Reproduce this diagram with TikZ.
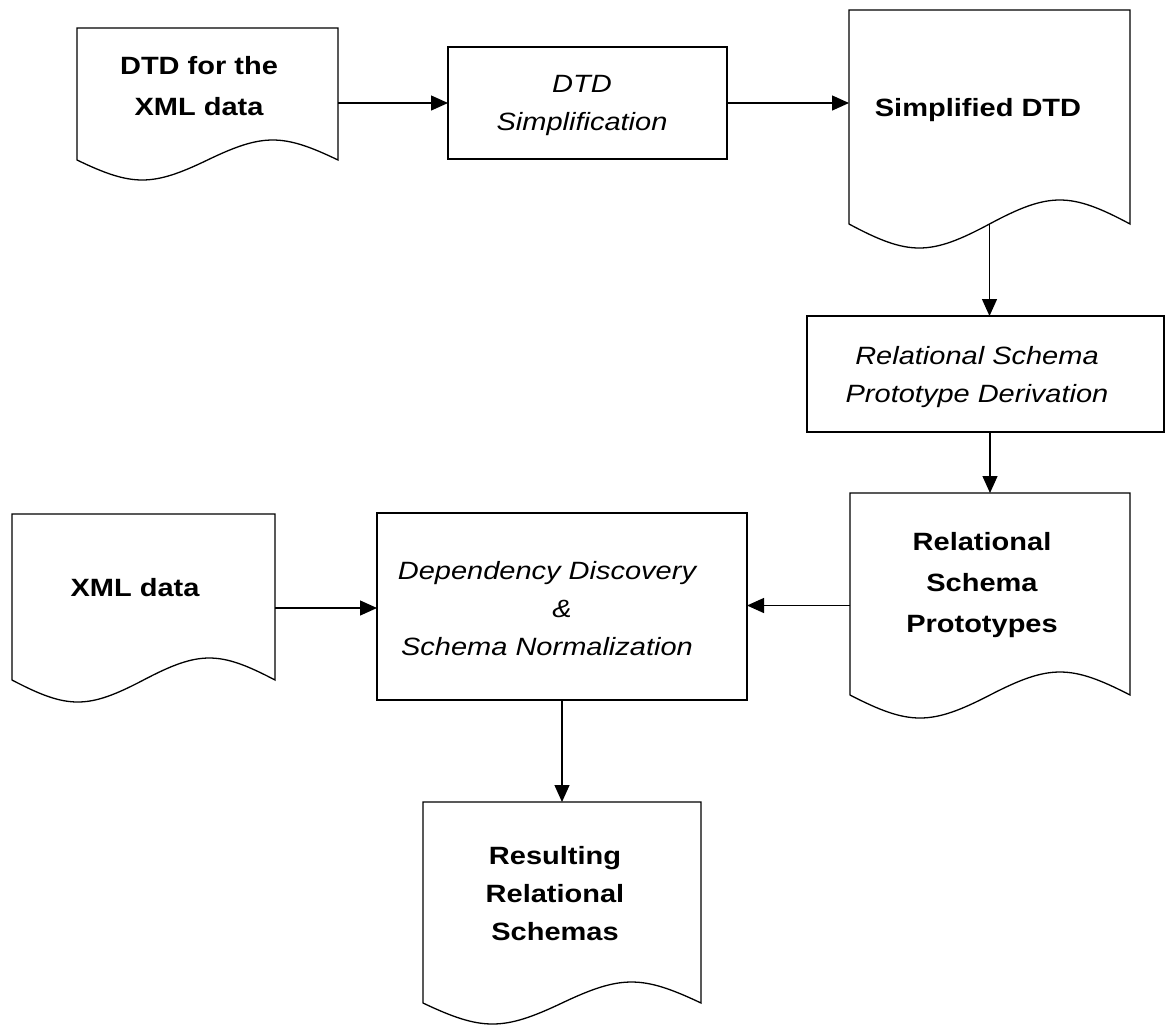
\documentclass[tikz,border=0pt]{standalone}
\usepackage{fontspec}
\setmainfont{Liberation Sans}[FakeStretch=1.16]
\usetikzlibrary{arrows.meta,calc}

% document outline: top edge, right side, sine-like wavy bottom (amplitude #2), left side
\newcommand\docoutline[2]{%
  \draw[outline] let \p1=(#1.north west), \p2=(#1.south east), \p3=(#1.south),
     \n1={#2*1.333}, \n2={0.212*(\x2-\x1)}, \n3={0.288*(\x2-\x1)} in
   (\x1,\y1) -- (\x2,\y1) -- (\x2,\y2+#2pt)
   .. controls (\x2-\n2,\y2+#2pt+\n1 pt) and (\x2-\n3,\y2+#2pt+\n1 pt) .. (\x3,\y2+#2pt)
   .. controls (\x3-\n2,\y2+#2pt-\n1 pt) and (\x3-\n3,\y2+#2pt-\n1 pt) .. (\x1,\y2+#2pt)
   -- cycle;}

\begin{document}
\begin{tikzpicture}[x=1pt,y=-1pt,
  outline/.style={line width=1.3pt, draw=black},
  frame/.style={rectangle, inner sep=0pt, outer sep=0pt},
  procbox/.style={frame, draw=black, line width=1.3pt},
  boldtext/.style={inner sep=0pt, align=center, font=\fontsize{25}{41}\selectfont\bfseries},
  itext/.style={inner sep=0pt, align=center, font=\fontsize{25}{38}\selectfont\itshape},
  conn/.style={line width=1.3pt, -{Triangle[length=17pt,width=15pt]}}]
\useasboundingbox (0,0) rectangle (1166,1026);

% document shapes (bounds down to the trough of the wave)
\node[frame, minimum width=261pt, minimum height=152pt] (dtd) at (207.5,104) {};
\node[frame, minimum width=281pt, minimum height=238pt] (simp) at (989.5,129) {};
\node[frame, minimum width=280pt, minimum height=225pt] (proto) at (990,605.5) {};
\node[frame, minimum width=263pt, minimum height=188pt] (xml) at (143.5,608) {};
\node[frame, minimum width=278pt, minimum height=222pt] (res) at (562,913) {};
\docoutline{dtd}{20}
\docoutline{simp}{24}
\docoutline{proto}{23}
\docoutline{xml}{22}
\docoutline{res}{21}

% process boxes
\node[procbox, minimum width=279pt, minimum height=112pt] (sbox) at (587.5,103) {};
\node[procbox, minimum width=357pt, minimum height=116pt] (derive) at (985.5,374) {};
\node[procbox, minimum width=370pt, minimum height=187pt] (dep) at (562,606.5) {};

% texts
\node[boldtext] (dtdtext) at (199,86.5) {DTD for the\\XML data};
\node[boldtext] (simptext) at (978,110.5) {Simplified DTD};
\node[boldtext] (prototext) at (982,585.5) {Relational\\Schema\\Prototypes};
\node[boldtext] (xmltext) at (135,588) {XML data};
\node[boldtext, font=\fontsize{25}{38}\selectfont\bfseries] (restext) at (555,894) {Resulting\\Relational\\Schemas};
\node[itext] (sboxtext) at (582,105.5) {DTD\\Simplification};
\node[itext] (derivetext) at (977,377) {Relational Schema\\Prototype Derivation};
\node[itext] (deptext) at (562,609) {Dependency Discovery\hspace*{30pt}\\\&\\Schema Normalization\hspace*{30pt}};

% connectors
\draw[conn] (sbox.west -| dtd.east) -- (sbox.west);
\draw[conn] (sbox.east) -- (sbox.east -| simp.west);
\draw[conn] ($(simp.south)+(0,-24)$) -- (simp.south |- derive.north);
\draw[conn] (derive.south -| proto.north) -- (proto.north);
\draw[conn] (proto.west) -- (proto.west -| dep.east);
\draw[conn] (xml.east) -- (xml.east -| dep.west);
\draw[conn] (dep.south) -- (res.north);
\end{tikzpicture}
\end{document}
